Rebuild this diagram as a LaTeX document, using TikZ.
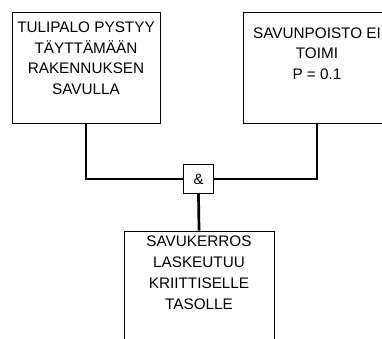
\documentclass[tikz,border=0pt]{standalone}
\usepackage{fontspec}
\setmainfont{Liberation Sans}
\usepackage{tikz}
\usetikzlibrary{positioning}

\begin{document}
\begin{tikzpicture}[x=1pt,y=-1pt,
    event box/.style={draw,line width=0.9pt,fill=white,inner sep=0pt,
                      minimum width=148pt,minimum height=111pt},
    event text/.style={anchor=north,align=center,inner sep=0pt,
                       font=\fontsize{15.3}{20.7}\selectfont},
    and gate/.style={draw,line width=0.9pt,fill=white,inner sep=0pt,
                     minimum size=29.5pt,font=\fontsize{15}{17}\selectfont},
    conn/.style={line width=2.7pt}]

  \useasboundingbox (0,0) rectangle (382,338);
  \clip (0,0) rectangle (382,338);

  % events
  \node[event box] (fire) at (86,67.5) {};
  \node[event box] (vent) at (317,67.5) {};
  \node[event box,minimum width=150pt] (smoke) at (199,286.5) {};
  \node[and gate] (and) at (198.5,179) {\&};

  \node[event text] (fire text) [below=10pt of fire.north]
    {TULIPALO PYSTYY\\TÄYTTÄMÄÄN\\RAKENNUKSEN\\SAVULLA};
  \node[event text] (vent text) [below=15.6pt of vent.north]
    {SAVUNPOISTO EI\\TOIMI\\P = 0.1};
  \node[event text] (smoke text) [below=5.5pt of smoke.north]
    {SAVUKERROS\\LASKEUTUU\\KRIITTISELLE\\TASOLLE};

  % connections through the gate
  \draw[conn] (fire.south) |- (and.west);
  \draw[conn] (vent.south) |- (and.east);
  \draw[conn] (and.south) -- (smoke.north);
\end{tikzpicture}
\end{document}
